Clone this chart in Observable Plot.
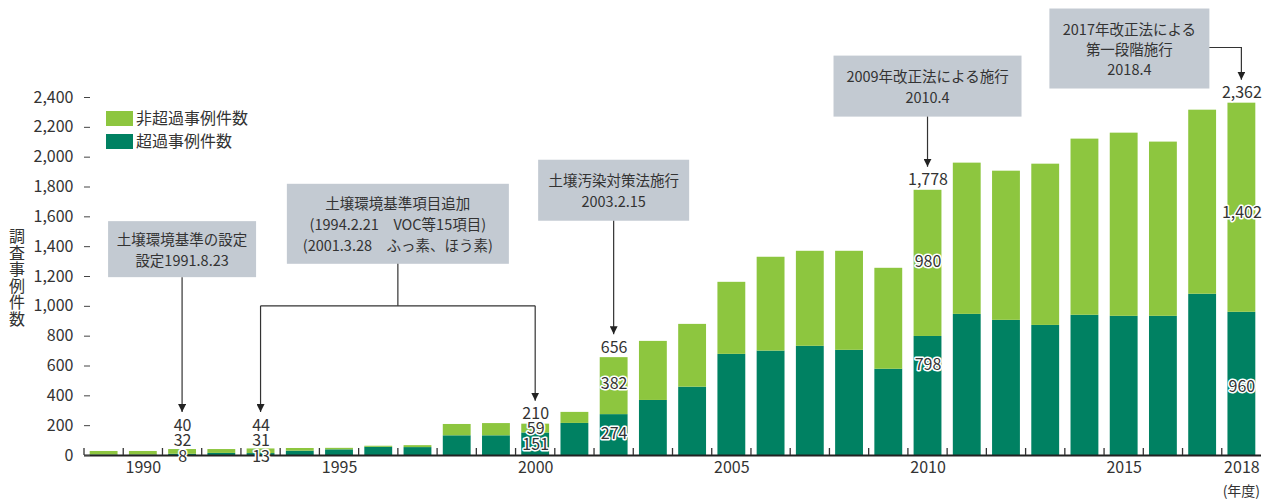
<!DOCTYPE html>
<html><head><meta charset="utf-8">
<script src="https://cdn.jsdelivr.net/npm/d3@7"></script>
<script src="https://cdn.jsdelivr.net/npm/@observablehq/plot@0.6"></script>
<style>body{margin:0;background:#fff} svg{display:block}</style>
</head><body><div id="chart"></div>
<script>
// ---- data ----
const years = [1989,1990,1991,1992,1993,1994,1995,1996,1997,1998,1999,2000,2001,2002,2003,2004,2005,2006,2007,2008,2009,2010,2011,2012,2013,2014,2015,2016,2017,2018];
const exceed    = [3,3,8,14,13,29,38,55,53,132,132,151,215,274,369,458,678,700,732,705,578,798,946,906,872,940,933,933,1081,960];
const nonExceed = [24,24,32,26,31,18,10,7,13,76,82,59,74,382,396,421,483,629,637,664,677,980,1014,1000,1081,1181,1228,1168,1234,1402];
const seriesNames = ["非超過事例件数", "超過事例件数"];
const xTickYears = [1990, 1995, 2000, 2005, 2010, 2015, 2018];
const yTicks = [0,200,400,600,800,1000,1200,1400,1600,1800,2000,2200,2400];
const yTitle = "調査事例件数";
const xUnit = "(年度)";
const noteTexts = [
  ["土壌環境基準の設定", "設定1991.8.23"],
  ["土壌環境基準項目追加", "(1994.2.21　VOC等15項目)", "(2001.3.28　ふっ素、ほう素)"],
  ["土壌汚染対策法施行", "2003.2.15"],
  ["2009年改正法による施行", "2010.4"],
  ["2017年改正法による", "第一段階施行", "2018.4"]
];

const colors = {"非超過事例件数": "#8dc63f", "超過事例件数": "#008162"};
const FONT = "'Noto Sans CJK JP', 'Noto Sans', sans-serif";
const TXT = "#333";

const rows = [];
years.forEach((yr, i) => {
  rows.push({year: yr, series: seriesNames[1], value: exceed[i]});
  rows.push({year: yr, series: seriesNames[0], value: nonExceed[i]});
});
const idx = yr => years.indexOf(yr);
const total = yr => exceed[idx(yr)] + nonExceed[idx(yr)];
const fmt = d3.format(",");

// labels: value positions derived from data, pixel nudges grouped by offset
const labels = [];
for (const yr of [1991, 1993]) {
  labels.push({year: yr, y: 0, text: fmt(total(yr)), off: -30});
  labels.push({year: yr, y: 0, text: fmt(nonExceed[idx(yr)]), off: -15});
  labels.push({year: yr, y: 0, text: fmt(exceed[idx(yr)]), off: 1});
}
const segOff = {2000: [0, 1], 2002: [-2, -1], 2010: [-1, -31], 2018: [5, 3]};
for (const yr of [2000, 2002, 2010, 2018]) {
  const e = exceed[idx(yr)], n = nonExceed[idx(yr)];
  labels.push({year: yr, y: e + n, text: fmt(e + n), off: -10});
  labels.push({year: yr, y: e + n / 2, text: fmt(n), off: segOff[yr][0]});
  labels.push({year: yr, y: e / 2, text: fmt(e), off: segOff[yr][1]});
}
const offsets = Array.from(new Set(labels.map(d => d.off)));
const labelMarks = offsets.map(o => Plot.text(labels.filter(d => d.off === o), {
  x: "year", y: "y", text: "text", dy: o, fontSize: 16, fill: TXT,
  stroke: "white", strokeWidth: 3, paintOrder: "stroke"
}));

const chart = Plot.plot({
  width: 1272, height: 500,
  marginLeft: 84, marginRight: 11, marginTop: 97, marginBottom: 45,
  style: {fontFamily: FONT, color: TXT, background: "#fff"},
  x: {type: "band", domain: years, paddingInner: 0.29, paddingOuter: 0.145, round: false, label: null},
  y: {domain: [0, 2400], label: null},
  color: {domain: seriesNames, range: seriesNames.map(s => colors[s])},
  marks: [
    Plot.barY(rows, {x: "year", y: "value", fill: "series"}),
    Plot.ruleY([0], {stroke: "#222", strokeWidth: 2}),
    Plot.axisY({ticks: yTicks, tickFormat: fmt, tickSize: 6, dx: 6, tickPadding: 11, fontSize: 16, stroke: "#444", fill: TXT, label: null}),
    Plot.axisX({ticks: xTickYears, tickFormat: d => String(d), tickSize: 0, tickPadding: 6, fontSize: 16, fill: TXT, label: null}),
    ...labelMarks
  ]
});
document.getElementById("chart").appendChild(chart);

// ---- decorations using the plot's scales ----
const svg = d3.select(chart);
const xs = chart.scale("x"), ys = chart.scale("y");
const bw = xs.bandwidth, step = xs.step;
const gap = (step - bw) / 2;
const cx = yr => xs.apply(yr) + bw / 2;
const py = v => ys.apply(v);
const base = py(0);
const left = Math.min(...xs.range);

// boundary ticks along the x axis
svg.append("g").selectAll("line").data(years).join("line")
  .attr("x1", d => xs.apply(d) - gap).attr("x2", d => xs.apply(d) - gap)
  .attr("y1", base).attr("y2", base - 7)
  .attr("stroke", "#333").attr("stroke-width", 1.3);

// y title (vertical)
const yt = svg.append("text").attr("font-family", FONT).attr("font-size", 16).attr("fill", TXT)
  .attr("text-anchor", "middle");
Array.from(yTitle).forEach((ch, i) => {
  yt.append("tspan").attr("x", 17).attr("y", 242 + i * 16.5).text(ch);
});

// x unit
svg.append("text").attr("x", cx(2018)).attr("y", 496).attr("text-anchor", "middle")
  .attr("font-family", FONT).attr("font-size", 14).attr("fill", TXT).text(xUnit);

// legend
const lg = svg.append("g");
const lx = left + 22, ly = py(2400) + 14;
seriesNames.forEach((s, i) => {
  lg.append("rect").attr("x", lx).attr("y", ly + i * 23).attr("width", 27).attr("height", 15).attr("fill", colors[s]);
  lg.append("text").attr("x", lx + 30).attr("y", ly + i * 23 + 7.5).attr("dy", "0.35em")
    .attr("text-anchor", "start")
    .attr("font-family", FONT).attr("font-size", 16).attr("fill", TXT).text(s);
});

// arrow marker
svg.append("defs").append("marker").attr("id", "arr").attr("viewBox", "0 0 10 10")
  .attr("refX", 10).attr("refY", 5).attr("markerWidth", 8).attr("markerHeight", 8)
  .attr("markerUnits", "userSpaceOnUse").attr("orient", "auto")
  .append("path").attr("d", "M0,0L10,5L0,10z").attr("fill", "#222");

const tipSmall = base - 30 - 13;
const tipTop = yr => py(total(yr)) - 10 - 13;

function box(lines, cxp, cyp, w, h, lh) {
  const g = svg.append("g");
  g.append("rect").attr("x", cxp - w / 2).attr("y", cyp - h / 2).attr("width", w).attr("height", h).attr("fill", "#c3cad2");
  const n = lines.length;
  lines.forEach((t, i) => {
    g.append("text").attr("x", cxp).attr("y", cyp + (i - (n - 1) / 2) * lh + 1).attr("dy", "0.35em")
      .attr("text-anchor", "middle").attr("font-family", FONT).attr("font-size", 14.5).attr("fill", TXT).text(t);
  });
  return {top: cyp - h / 2, bottom: cyp + h / 2, left: cxp - w / 2, right: cxp + w / 2};
}
function path(pts, arrow) {
  svg.append("path").attr("d", d3.line()(pts)).attr("fill", "none").attr("stroke", "#333").attr("stroke-width", 1.2)
    .attr("marker-end", arrow ? "url(#arr)" : null);
}

// note 1
let b = box(noteTexts[0], cx(1991), py(1380), 148, 56, 21);
path([[cx(1991), b.bottom], [cx(1991), tipSmall]], true);
// note 2
const mid2 = (cx(1993) + cx(2000)) / 2;
b = box(noteTexts[1], mid2, py(1550), 222, 80, 21);
const hy = py(1000);
path([[mid2, b.bottom], [mid2, hy]], false);
path([[cx(1993), hy], [cx(2000), hy]], false);
path([[cx(1993), hy], [cx(1993), tipSmall]], true);
path([[cx(2000), hy], [cx(2000), tipTop(2000)]], true);
// note 3
b = box(noteTexts[2], cx(2002), py(1775), 151, 61, 21);
path([[cx(2002), b.bottom], [cx(2002), tipTop(2002)]], true);
// note 4
b = box(noteTexts[3], cx(2010), py(2473), 188, 61, 21);
path([[cx(2010), b.bottom], [cx(2010), tipTop(2010)]], true);
// note 5
b = box(noteTexts[4], cx(2018) - 112, py(2725), 160, 80, 20);
path([[b.right, b.top + 39], [cx(2018), b.top + 39], [cx(2018), tipTop(2018)]], true);
</script>
</body></html>
